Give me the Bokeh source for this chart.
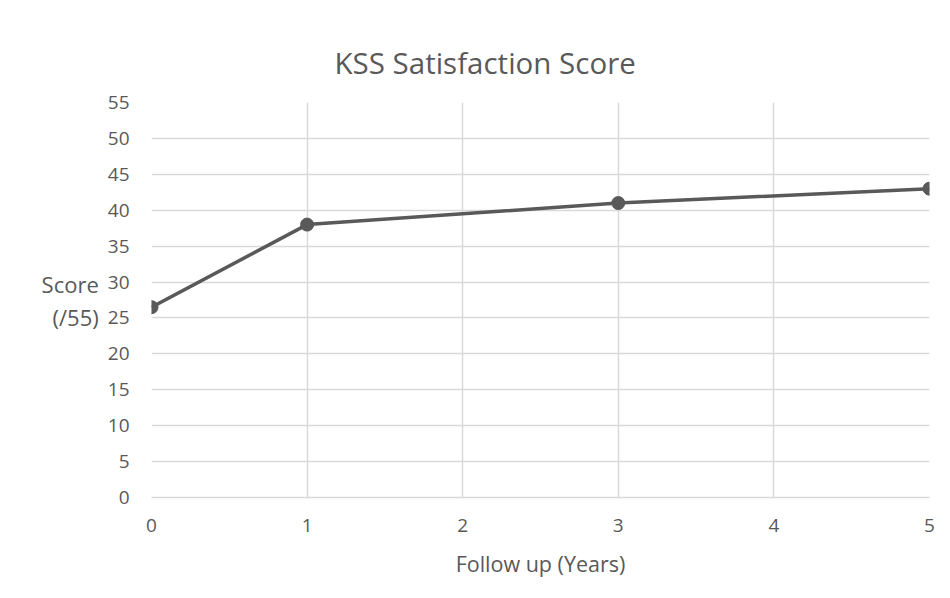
from bokeh.plotting import figure
from bokeh.models import FixedTicker, Range1d, Title
from bokeh.embed import file_html
from bokeh.resources import INLINE

# Data
years = [0, 1, 3, 5]
scores = [26.5, 38, 41, 43]
x_ticks = [0, 1, 2, 3, 4, 5]
y_ticks = [0, 5, 10, 15, 20, 25, 30, 35, 40, 45, 50, 55]
title_text = "KSS Satisfaction Score"
x_label = "Follow up (Years)"
y_label_lines = ["Score", "(/55)"]

FONT = "Open Sans"
TXT = "#595959"
GRID = "#d9d9d9"

W, H = 942, 590
p = figure(width=W, height=H, output_backend="svg", toolbar_location=None,
           x_range=Range1d(0, 5), y_range=Range1d(0, 55),
           min_border_left=151, min_border_right=13, min_border_top=102, min_border_bottom=93)
p.outline_line_color = None
p.background_fill_color = "white"
p.border_fill_color = "white"

p.title = Title(text=title_text, align="left", offset=183, standoff=39,
                text_font=FONT, text_font_size="29.5px", text_font_style="normal",
                text_color=TXT)

p.xaxis.ticker = FixedTicker(ticks=x_ticks)
p.yaxis.ticker = FixedTicker(ticks=y_ticks)
for ax in (p.xaxis, p.yaxis):
    ax.major_tick_line_color = None
    ax.minor_tick_line_color = None
    ax.major_label_text_font = FONT
    ax.major_label_text_font_size = "19px"
    ax.major_label_text_color = TXT
p.xaxis.axis_line_color = GRID
p.xaxis.axis_line_width = 1.5
p.yaxis.axis_line_color = None
p.xaxis.major_label_standoff = 15
p.yaxis.major_label_standoff = 16

p.xaxis.axis_label = x_label
p.xaxis.axis_label_text_font = FONT
p.xaxis.axis_label_text_font_size = "21.5px"
p.xaxis.axis_label_text_font_style = "normal"
p.xaxis.axis_label_text_color = TXT
p.xaxis.axis_label_standoff = 14

p.yaxis.axis_label = "\n".join(y_label_lines)
p.yaxis.axis_label_orientation = "horizontal"
p.yaxis.axis_label_text_font = FONT
p.yaxis.axis_label_text_font_size = "22px"
p.yaxis.axis_label_text_font_style = "normal"
p.yaxis.axis_label_text_color = TXT
p.yaxis.axis_label_text_line_height = 1.1
p.yaxis.axis_label_text_align = "center"
p.yaxis.axis_label_standoff = 6

p.xgrid.grid_line_color = GRID
p.ygrid.grid_line_color = GRID
p.xgrid.grid_line_width = 1.5
p.ygrid.grid_line_width = 1.5

p.line(years, scores, line_color="#595959", line_width=3.5)
p.scatter(years, scores, size=13, fill_color="#595959", line_color="#595959")

open("out.html", "w").write(file_html(p, INLINE))
